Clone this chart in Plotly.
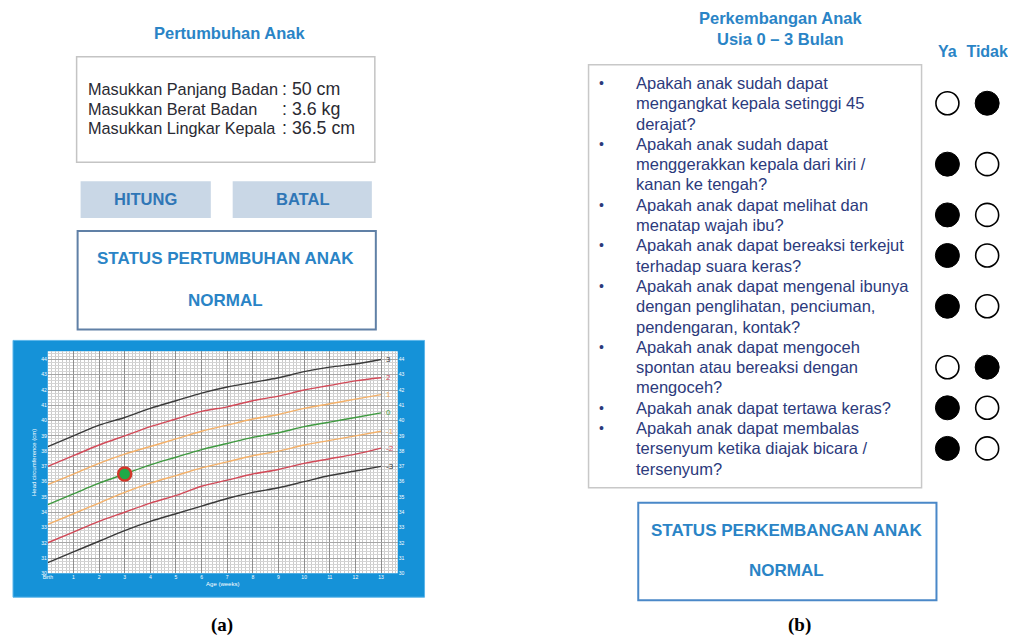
import plotly.graph_objects as go

# page body has an 8px margin: figure is drawn at (8, 8) in the window
OX, OY = 8, 8
W, H = 1008, 634
def px(x): return (x - OX) / W
def py(y): return 1 - (y - OY) / H

# ---------------- data ----------------
weeks = list(range(14))
week_labels = ["Birth"] + [str(i) for i in range(1, 14)]
hc_ticks = list(range(30, 45))
sd_names = ["3", "2", "1", "0", "-1", "-2", "-3"]
hc_sd3 = [38.3, 39.0, 39.7, 40.2, 40.8, 41.3, 41.8, 42.2, 42.5, 42.8, 43.2, 43.5, 43.7, 44.0]
hc_sd2 = [37.0, 37.7, 38.4, 39.0, 39.6, 40.1, 40.6, 40.9, 41.3, 41.6, 42.0, 42.3, 42.6, 42.8]
hc_sd1 = [35.8, 36.5, 37.2, 37.8, 38.3, 38.8, 39.3, 39.7, 40.1, 40.4, 40.8, 41.1, 41.4, 41.7]
hc_sd0 = [34.5, 35.2, 35.9, 36.5, 37.1, 37.6, 38.1, 38.5, 38.9, 39.2, 39.6, 39.9, 40.2, 40.5]
hc_sdm1 = [33.2, 33.9, 34.6, 35.3, 35.9, 36.4, 36.9, 37.3, 37.7, 38.0, 38.4, 38.7, 39.0, 39.3]
hc_sdm2 = [32.0, 32.7, 33.4, 34.0, 34.6, 35.1, 35.7, 36.1, 36.5, 36.8, 37.2, 37.5, 37.8, 38.2]
hc_sdm3 = [30.7, 31.4, 32.1, 32.8, 33.4, 33.9, 34.4, 34.9, 35.3, 35.6, 36.0, 36.4, 36.7, 37.0]
child_age_weeks = [3]
child_hc = [36.5]

input_labels = ["Masukkan Panjang Badan", "Masukkan Berat Badan", "Masukkan Lingkar Kepala"]
input_values = [": 50 cm", ": 3.6 kg", ": 36.5 cm"]
buttons = ["HITUNG", "BATAL"]

answer_options = ["Ya", "Tidak"]
questions = [
    ["Apakah anak sudah dapat", "mengangkat kepala setinggi 45", "derajat?"],
    ["Apakah anak sudah dapat", "menggerakkan kepala dari kiri /", "kanan ke tengah?"],
    ["Apakah anak dapat melihat dan", "menatap wajah ibu?"],
    ["Apakah anak dapat bereaksi terkejut", "terhadap suara keras?"],
    ["Apakah anak dapat mengenal ibunya", "dengan penglihatan, penciuman,", "pendengaran, kontak?"],
    ["Apakah anak dapat mengoceh", "spontan atau bereaksi dengan", "mengoceh?"],
    ["Apakah anak dapat tertawa keras?"],
    ["Apakah anak dapat membalas", "tersenyum ketika diajak bicara /", "tersenyum?"],
]
answers = ["Tidak", "Ya", "Ya", "Ya", "Ya", "Tidak", "Ya", "Ya"]

# ---------------- styles ----------------
BLUE = "#2a84c6"
BTN_BLUE = "#2f76b6"
SANS = "Liberation Sans"
SERIF = "Liberation Serif"
LINE_Y0, LINE_H = 83.3, 20.4   # px of first text line, px per line (panel b)

fig = go.Figure()

sd_series = [hc_sd3, hc_sd2, hc_sd1, hc_sd0, hc_sdm1, hc_sdm2, hc_sdm3]
sd_colors = ["#3a3a3a", "#d24a58", "#f4b068", "#3f9a40", "#f4b068", "#d24a58", "#3a3a3a"]
for name, vals, col in zip(sd_names, sd_series, sd_colors):
    fig.add_trace(go.Scatter(x=weeks, y=vals, mode="lines",
                             line=dict(color=col, width=1.4, shape="spline"),
                             xaxis="x", yaxis="y", showlegend=False, hoverinfo="skip"))
    fig.add_annotation(x=weeks[-1], y=vals[-1], xref="x", yref="y", text=name,
                       showarrow=False, xanchor="left", xshift=3,
                       font=dict(size=8, color=col, family=SANS))

fig.add_trace(go.Scatter(x=child_age_weeks, y=child_hc, mode="markers",
                         marker=dict(size=13, color="#1faa48", line=dict(color="#d2372a", width=2.5)),
                         xaxis="x", yaxis="y", showlegend=False, hoverinfo="skip"))
# invisible trace so the mirrored right axis renders
fig.add_trace(go.Scatter(x=[weeks[0]], y=[hc_ticks[0]], mode="markers", marker=dict(opacity=0),
                         xaxis="x", yaxis="y2", showlegend=False, hoverinfo="skip"))

# answers (panel b)
rows = []
start = 0
for q in questions:
    rows.append(start + (len(q) - 1) / 2)
    start += len(q)
other = {answer_options[0]: answer_options[1], answer_options[1]: answer_options[0]}
fig.add_trace(go.Scatter(x=answers, y=rows, mode="markers", xaxis="x3", yaxis="y3",
                         marker=dict(size=24, color="black", line=dict(color="black", width=1)),
                         showlegend=False, hoverinfo="skip"))
fig.add_trace(go.Scatter(x=[other[a] for a in answers], y=rows, mode="markers", xaxis="x3", yaxis="y3",
                         marker=dict(size=23, color="white", line=dict(color="black", width=1.6)),
                         showlegend=False, hoverinfo="skip"))

# ---------------- shapes ----------------
def rect(x0, y0, x1, y1, **kw):
    d = dict(type="rect", xref="paper", yref="paper", x0=px(x0), x1=px(x1), y0=py(y1), y1=py(y0))
    d.update(kw)
    fig.add_shape(**d)

rect(8, 342, 422, 600, fillcolor="#1592d8", line=dict(color="#5cb6ea", width=1), layer="below")
rect(43, 353, 395, 576, fillcolor="white", line=dict(width=0), layer="below")
rect(72, 57, 372, 163, fillcolor="rgba(0,0,0,0)", line=dict(color="#c4c4c4", width=1.5))
rect(76, 182, 207, 219, fillcolor="#c9d7e6", line=dict(width=0), layer="below")
rect(229, 182, 369, 219, fillcolor="#c9d7e6", line=dict(width=0), layer="below")
rect(73, 232, 373, 331, fillcolor="rgba(0,0,0,0)", line=dict(color="#6080a6", width=2))
rect(587, 65, 922, 490, fillcolor="rgba(0,0,0,0)", line=dict(color="#c8c8c8", width=1.5))
rect(637, 505, 937, 603, fillcolor="rgba(0,0,0,0)", line=dict(color="#4a88c8", width=2))

# ---------------- text ----------------
def text(x, y, s, size, color, bold=False, family=SANS, anchor="center"):
    fig.add_annotation(x=px(x), y=py(y), xref="paper", yref="paper", text=s, showarrow=False,
                       xanchor=anchor, yanchor="middle",
                       font=dict(size=size, color=color, family=family, weight="bold" if bold else "normal"))

text(226, 33, "Pertumbuhan Anak", 16.5, BLUE, bold=True)
for i, (lab, val) in enumerate(zip(input_labels, input_values)):
    yy = 89 + i * 20
    text(81, yy, lab, 16.3, "#2a2a32", anchor="left")
    text(277, yy, val, 17.8, "#2a2a32", anchor="left")
text(141.5, 199.5, buttons[0], 16.5, BTN_BLUE, bold=True)
text(299, 199.5, buttons[1], 16.5, BTN_BLUE, bold=True)
text(222, 260, "STATUS PERTUMBUHAN ANAK", 17, BLUE, bold=True)
text(222, 301.5, "NORMAL", 17, BLUE, bold=True)
text(218, 628, "(a)", 19, "black", bold=True, family=SERIF)

text(780, 18, "Perkembangan Anak", 16.5, BLUE, bold=True)
text(780, 39, "Usia 0 – 3 Bulan", 16.5, BLUE, bold=True)
line = 0
for q in questions:
    fig.add_annotation(x=px(600), y=line, xref="paper", yref="y3", text="•", showarrow=False,
                       xanchor="center", yanchor="middle", font=dict(size=14, color="#2c3a7c", family=SANS))
    for t in q:
        fig.add_annotation(x=px(633), y=line, xref="paper", yref="y3", text=t, showarrow=False,
                           xanchor="left", yanchor="middle", font=dict(size=16.5, color="#2c3a7c", family=SANS))
        line += 1
text(786, 533, "STATUS PERKEMBANGAN ANAK", 17, BLUE, bold=True)
text(786, 573, "NORMAL", 17, BLUE, bold=True)
text(799, 628, "(b)", 19, "black", bold=True, family=SERIF)

# ---------------- axes ----------------
small = dict(size=5, color="white", family=SANS)
fig.update_layout(
    width=W, height=H, margin=dict(l=0, r=0, t=0, b=0),
    paper_bgcolor="white", plot_bgcolor="white", showlegend=False,
    xaxis=dict(domain=[px(43), px(395)], range=[0, 13.65], anchor="y",
               tickvals=weeks, ticktext=week_labels, tickfont=small, ticks="",
               showgrid=True, gridcolor="#8e8e8e", gridwidth=1, zeroline=False, showline=False,
               minor=dict(dtick=1/7, tick0=0, showgrid=True, gridcolor="#cbcbcb", gridwidth=0.6),
               title=dict(text="Age (weeks)", font=dict(size=6, color="white", family=SANS), standoff=2),
               fixedrange=True),
    yaxis=dict(domain=[py(576), py(353)], range=[30, 44.53], anchor="x",
               tickvals=hc_ticks, tickfont=small, ticks="",
               showgrid=True, gridcolor="#a6a6a6", gridwidth=1, zeroline=False, showline=False,
               minor=dict(dtick=0.2, tick0=30, showgrid=True, gridcolor="#d4d4d4", gridwidth=0.6),
               title=dict(text="Head circumference (cm)", font=dict(size=6, color="white", family=SANS), standoff=4),
               fixedrange=True),
    yaxis2=dict(overlaying="y", side="right", anchor="x", matches="y",
                tickvals=hc_ticks, tickfont=small, ticks="", showgrid=False, zeroline=False,
                showline=False, fixedrange=True),
    xaxis3=dict(domain=[px(928), px(1008)], anchor="y3", type="category",
                categoryorder="array", categoryarray=answer_options, range=[-0.5, 1.5],
                side="top", ticks="", showgrid=False, zeroline=False, showline=False,
                tickfont=dict(size=16, color=BLUE, family=SANS, weight="bold"), fixedrange=True),
    yaxis3=dict(domain=[py(490), py(61)], anchor="x3",
                range=[(490 - LINE_Y0) / LINE_H, (61 - LINE_Y0) / LINE_H],
                visible=False, fixedrange=True),
)

fig.write_html("out.html")
